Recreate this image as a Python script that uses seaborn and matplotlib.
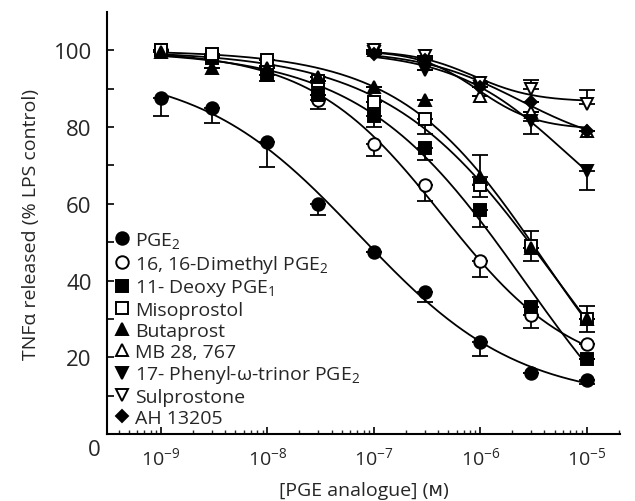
import numpy as np
import pandas as pd
import matplotlib
matplotlib.use("Agg")
import matplotlib.pyplot as plt
import seaborn as sns
from matplotlib.lines import Line2D
from matplotlib.ticker import LogLocator, FixedLocator, NullFormatter, FixedFormatter

# concentrations (M)
conc_all = [1e-9, 3e-9, 1e-8, 3e-8, 1e-7, 3e-7, 1e-6, 3e-6, 1e-5]
conc_high = [1e-7, 3e-7, 1e-6, 3e-6, 1e-5]

# TNFa released (% LPS control)
pge2 = [87.5, 85, 76, 60, 47.5, 37, 24, 16, 14]
pge2_lo = [4.5, 3.8, 6.5, 3, 0, 2.5, 3.7, 0, 1]
dimethyl = [100, 98.5, 96, 87, 75.5, 65, 45, 31, 23.5]
dimethyl_lo = [0, 0, 0, 2.2, 3, 4.3, 4, 3.4, 0]
deoxy = [100, 98, 93.5, 88.5, 83, 74.5, 58.5, 33, 19.5]
deoxy_lo = [0, 0, 1.6, 0, 3, 3, 4.5, 0, 0]
miso = [100, 99, 97.5, 92, 86.5, 82, 65, 49, 30]
miso_lo = [0, 0, 0, 0, 0, 3.7, 3.2, 4, 3.3]
miso_hi = [0, 0, 0, 0, 0, 0, 0, 4, 3.3]
buta = [99.5, 95.5, 95.5, 93, 90.5, 87, 67, 48.5, 30]
buta_hi = [0, 0, 0, 0, 0, 0, 5.8, 0, 0]
mb = [100, 98, 88, 84, 79]
phenyl = [99.5, 95, 90.5, 81.5, 68.5]
phenyl_lo = [0, 0, 0, 3.2, 5]
sulpro = [100, 98.5, 91.5, 90, 86]
sulpro_hi = [0, 0, 0, 2.2, 3.6]
ah = [99, 97.5, 90.5, 86.5, 79]

labels = ["PGE$_2$", "16, 16-Dimethyl PGE$_2$", "11- Deoxy PGE$_1$", "Misoprostol",
          "Butaprost", "MB 28, 767", "17- Phenyl-\u03c9-trinor PGE$_2$",
          "Sulprostone", "AH 13205"]

zeros9 = [0] * 9
zeros5 = [0] * 5
# label, x, y, err low, err high, marker, filled, size, fixed top of fit
series = [
    (labels[0], conc_all, pge2, pge2_lo, zeros9, "o", True, 9, None),
    (labels[1], conc_all, dimethyl, dimethyl_lo, zeros9, "o", False, 9, 100),
    (labels[2], conc_all, deoxy, deoxy_lo, zeros9, "s", True, 8.5, 100),
    (labels[3], conc_all, miso, miso_lo, miso_hi, "s", False, 8.5, 100),
    (labels[4], conc_all, buta, zeros9, buta_hi, "^", True, 9, 100),
    (labels[5], conc_high, mb, zeros5, zeros5, "^", False, 9, 100),
    (labels[6], conc_high, phenyl, phenyl_lo, zeros5, "v", True, 9, 100),
    (labels[7], conc_high, sulpro, zeros5, sulpro_hi, "v", False, 9, 100),
    (labels[8], conc_high, ah, zeros5, zeros5, "D", True, 6, 100),
]


def fit_logistic(xs, ys, top=None):
    # least-squares logistic, grid over slope / midpoint, linear solve for plateaus
    lx = np.log10(xs)
    ys = np.asarray(ys, float)
    hs = np.arange(0.3, 2.5, 0.02)
    cs = np.arange(-10.5, -2.0, 0.02)
    H, C = np.meshgrid(hs, cs, indexing="ij")
    S = 1.0 / (1.0 + 10 ** ((lx[None, None, :] - C[..., None]) * H[..., None]))
    Q = 1.0 - S
    if top is None:
        sm = S.mean(-1, keepdims=True)
        ym = ys.mean()
        k = ((S - sm) * (ys - ym)).sum(-1) / (((S - sm) ** 2).sum(-1) + 1e-12)
        b = ym - k * sm[..., 0]
        t = b + k
    else:
        R = ys - top * S
        b = (R * Q).sum(-1) / ((Q ** 2).sum(-1) + 1e-12)
        t = np.full_like(b, top)
    pred = t[..., None] * S + b[..., None] * Q
    err = ((pred - ys) ** 2).sum(-1)
    i = np.unravel_index(np.argmin(err), err.shape)
    h, c, bb, tt = H[i], C[i], b[i], t[i]
    xx = np.logspace(lx.min(), lx.max(), 200)
    s = 1.0 / (1.0 + 10 ** ((np.log10(xx) - c) * h))
    return xx, tt * s + bb * (1 - s)


rows = []
for lab, xs, ys, lo, hi, mk, filled, ms, top in series:
    xx, yy = fit_logistic(xs, ys, top)
    rows.append(pd.DataFrame({"conc": xx, "fit": yy, "drug": lab}))
curves = pd.concat(rows, ignore_index=True)

sns.set_style("ticks")
plt.rcParams["font.family"] = ["Open Sans", "DejaVu Sans"]
plt.rcParams["mathtext.fontset"] = "custom"
plt.rcParams["mathtext.rm"] = "Open Sans"
plt.rcParams["mathtext.it"] = "Open Sans:italic"
plt.rcParams["mathtext.bf"] = "Open Sans:bold"

fig = plt.figure(figsize=(6.35, 5.02), dpi=100)
ax = fig.add_axes([0.1685, 0.1335, 0.8075, 0.8405])
ax.set_xscale("log")

sns.lineplot(data=curves, x="conc", y="fit", units="drug", estimator=None,
             color="black", lw=1.3, ax=ax, legend=False, zorder=2)

handles = []
for lab, xs, ys, lo, hi, mk, filled, ms, top in series:
    ax.errorbar(xs, ys, yerr=[lo, hi], fmt="none", ecolor="black",
                elinewidth=1.3, capsize=5.5, capthick=1.3, zorder=3)
    fc = "black" if filled else "white"
    ax.plot(xs, ys, ls="none", marker=mk, ms=ms, mfc=fc, mec="black",
            mew=1.4, zorder=4)
    handles.append(Line2D([], [], ls="none", marker=mk, ms=ms, mfc=fc,
                          mec="black", mew=1.4, label=lab))

ax.set_xlim(10 ** -9.507, 10 ** -4.69)
ax.set_ylim(0, 110)

ax.xaxis.set_major_locator(FixedLocator([1e-9, 1e-8, 1e-7, 1e-6, 1e-5]))
ax.xaxis.set_major_formatter(FixedFormatter(["10$^{\u22129}$", "10$^{\u22128}$",
                                             "10$^{\u22127}$", "10$^{\u22126}$",
                                             "10$^{\u22125}$"]))
ax.xaxis.set_minor_locator(LogLocator(base=10, subs=np.arange(2, 10), numticks=20))
ax.xaxis.set_minor_formatter(NullFormatter())

ax.yaxis.set_major_locator(FixedLocator(np.arange(10, 101, 10)))
ax.yaxis.set_major_formatter(FixedFormatter(["", "20", "", "40", "", "60", "", "80", "", "100"]))

ax.tick_params(axis="both", which="major", direction="in", length=5, width=1.2,
               color="black")
ax.tick_params(axis="x", which="major", labelsize=14, pad=9)
ax.tick_params(axis="y", which="major", labelsize=16, pad=11)
ax.tick_params(axis="x", which="minor", direction="in", length=3, width=1.0)
for s in ["top", "right"]:
    ax.spines[s].set_visible(False)
for s in ["left", "bottom"]:
    ax.spines[s].set_linewidth(1.5)
    ax.spines[s].set_color("black")

ax.text(-0.012, -0.037, "0", transform=ax.transAxes, ha="right", va="center",
        fontsize=16)

ax.set_xlabel("[PGE analogue] (\u1d0d)", fontsize=14, labelpad=9)
ax.set_ylabel("TNF\u03b1 released (% LPS control)", fontsize=14, labelpad=10)

ax.legend(handles=handles, loc="lower left", bbox_to_anchor=(0.015, 0.017),
          frameon=False, fontsize=14, handlelength=0.8, handletextpad=0.25,
          labelspacing=0.14, borderpad=0, borderaxespad=0)

fig.savefig("out.png", dpi=100)
